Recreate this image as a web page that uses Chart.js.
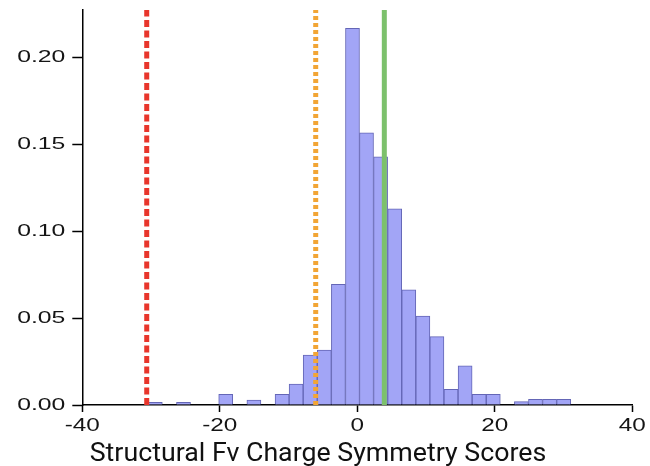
<!DOCTYPE html>
<html><head><meta charset="utf-8">
<script src="https://cdn.jsdelivr.net/npm/chart.js@4.4.1/dist/chart.umd.min.js"></script>
<style>html,body{margin:0;padding:0;background:#fff;overflow:hidden}#wrap{width:650px;height:466px}</style>
</head><body><div id="wrap"><canvas id="c" width="650" height="466"></canvas></div>
<script>
// Histogram bin centres (score units) and density heights
const binCenters = [-29.38, -27.33, -25.28, -23.23, -21.18, -19.14, -17.09, -15.04, -12.99, -10.94,
                    -8.90, -6.85, -4.80, -2.75, -0.70, 1.34, 3.39, 5.44, 7.49, 9.54,
                    11.58, 13.63, 15.68, 17.73, 19.78, 21.82, 23.87, 25.92, 27.97, 30.02];
const density = [0.0016, 0, 0.0016, 0, 0, 0.0061, 0, 0.0029, 0, 0.0061,
                 0.0120, 0.0287, 0.0316, 0.0694, 0.2166, 0.1565, 0.1427, 0.1128, 0.0663, 0.0511,
                 0.0393, 0.0090, 0.0226, 0.0061, 0.0061, 0, 0.0019, 0.0033, 0.0033, 0.0033];
// Reference vertical lines: red dotted, orange dotted, green solid
const refLineX = [-30.63, -6.05, 3.93];
const xTickValues = [-40, -20, 0, 20, 40];
const yTickValues = [0, 0.05, 0.10, 0.15, 0.20];
const xRange = [-40, 40];
const yRange = [0, 0.2272];
const xLabel = 'Structural Fv Charge Symmetry Scores';

const SX_Y = 1.5, SX_X = 1.35, SX_T = 1.07;

const stretchPlugin = {
  id: 'stretch',
  beforeInit(chart) {
    const ctx = chart.ctx;
    const proto = Object.getPrototypeOf(ctx);
    ctx.fillText = function (t, x, y, mw) {
      const sx = this.__stretch === 'title' ? SX_T :
                 this.__stretch ? (this.textAlign === 'right' ? SX_Y : SX_X) : 1;
      if (sx !== 1) {
        this.save();
        this.translate(x, y);
        this.scale(sx, 1);
        proto.fillText.call(this, t, 0, 0);
        this.restore();
      } else if (mw === undefined) {
        proto.fillText.call(this, t, x, y);
      } else {
        proto.fillText.call(this, t, x, y, mw);
      }
    };
  },
  beforeDraw(chart) { chart.ctx.__stretch = true; },
  beforeDatasetsDraw(chart) { chart.ctx.__stretch = false; },
  afterDraw(chart) {
    const ctx = chart.ctx;
    ctx.save();
    ctx.__stretch = 'title';
    ctx.font = '25px Roboto';
    ctx.fillStyle = '#111';
    ctx.textAlign = 'center';
    ctx.textBaseline = 'alphabetic';
    ctx.fillText(xLabel, 318, 461);
    ctx.__stretch = false;
    ctx.restore();
  }
};

const lineColors = ['#e8362c', '#f2a535', '#7cc16c'];
const lineDash = [[7, 3.5], [4, 3], []];

const lineSets = refLineX.map((x, i) => ({
  type: 'line',
  data: [{x: x, y: yRange[0]}, {x: x, y: yRange[1]}],
  borderColor: lineColors[i],
  borderWidth: 5,
  borderDash: lineDash[i],
  borderCapStyle: 'butt',
  pointRadius: 0,
  fill: false,
  order: 0,
  clip: false
}));

new Chart(document.getElementById('c'), {
  type: 'bar',
  data: {
    datasets: [{
      type: 'bar',
      data: binCenters.map((x, i) => ({x: x, y: density[i]})),
      backgroundColor: '#a2a5f6',
      borderColor: '#6466b6',
      borderWidth: 1,
      barPercentage: 1,
      categoryPercentage: 1,
      order: 1
    }, ...lineSets]
  },
  options: {
    responsive: false,
    animation: false,
    events: [],
    layout: {padding: {left: 0, right: 17.7, top: 10, bottom: 0}},
    plugins: {legend: {display: false}, tooltip: {enabled: false}, title: {display: false}},
    scales: {
      x: {
        type: 'linear', position: 'bottom', min: xRange[0], max: xRange[1],
        offset: false,
        afterBuildTicks: s => { s.ticks = xTickValues.map(v => ({value: v})); },
        afterFit: s => { s.height = 61; s.paddingLeft = 0; s.paddingRight = 0; },
        grid: {display: true, offset: false, drawOnChartArea: false, drawTicks: true, tickLength: 7, tickColor: '#000', tickWidth: 1.5},
        border: {display: true, color: '#000', width: 1.5},
        ticks: {font: {family: 'Liberation Sans', size: 18}, color: '#151515', padding: 3, maxRotation: 0, autoSkip: false,
                callback: v => String(v)}
      },
      y: {
        type: 'linear', min: yRange[0], max: yRange[1],
        afterBuildTicks: s => { s.ticks = yTickValues.map(v => ({value: v})); },
        afterFit: s => { s.width = 82.3; s.paddingTop = 0; s.paddingBottom = 0; },
        grid: {display: true, drawOnChartArea: false, drawTicks: true, tickLength: 10, tickColor: '#000', tickWidth: 1.5},
        border: {display: true, color: '#000', width: 1.5},
        ticks: {font: {family: 'Liberation Sans', size: 16.5}, color: '#151515', padding: 7,
                callback: v => Number(v).toFixed(2)}
      }
    }
  },
  plugins: [stretchPlugin]
});
</script></body></html>
